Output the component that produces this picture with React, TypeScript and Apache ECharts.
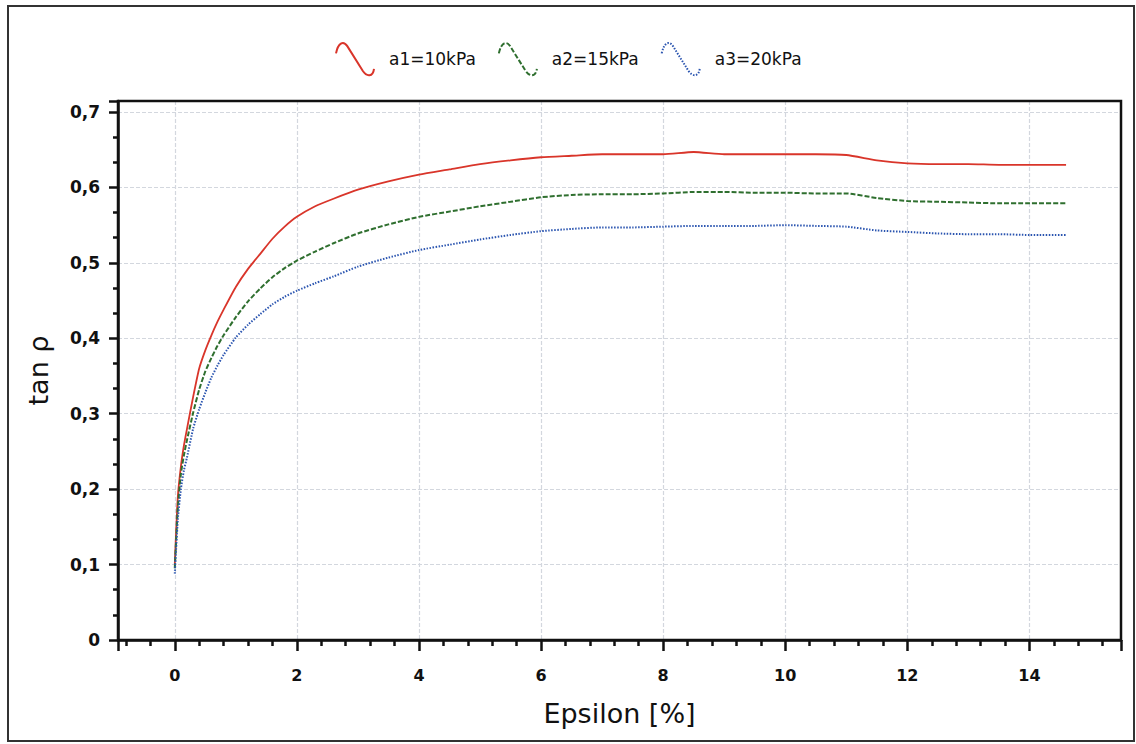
import React, { useEffect, useRef } from "react";
import * as echarts from "echarts";

const epsilon = [0, 0.05, 0.1, 0.15, 0.2, 0.3, 0.4, 0.5, 0.6, 0.7, 0.8, 1.0, 1.2, 1.4, 1.6, 1.8, 2.0, 2.3, 2.6, 3.0, 3.5, 4.0, 4.5, 5.0, 5.5, 6.0, 6.5, 7.0, 7.5, 8.0, 8.5, 9.0, 9.5, 10.0, 10.5, 11.0, 11.5, 12.0, 12.5, 13.0, 13.5, 14.0, 14.6];

const a1 = [0.10, 0.19, 0.23, 0.258, 0.28, 0.322, 0.36, 0.384, 0.404, 0.422, 0.438, 0.468, 0.492, 0.512, 0.532, 0.548, 0.561, 0.575, 0.585, 0.597, 0.608, 0.617, 0.624, 0.631, 0.636, 0.640, 0.642, 0.644, 0.644, 0.644, 0.647, 0.644, 0.644, 0.644, 0.644, 0.643, 0.636, 0.632, 0.631, 0.631, 0.630, 0.630, 0.630];

const a2 = [0.095, 0.175, 0.22, 0.245, 0.265, 0.301, 0.332, 0.356, 0.374, 0.39, 0.404, 0.428, 0.449, 0.466, 0.481, 0.493, 0.503, 0.515, 0.526, 0.539, 0.551, 0.561, 0.568, 0.575, 0.581, 0.587, 0.590, 0.591, 0.591, 0.592, 0.594, 0.594, 0.593, 0.593, 0.592, 0.592, 0.586, 0.582, 0.581, 0.580, 0.579, 0.579, 0.579];

const a3 = [0.088, 0.16, 0.2, 0.225, 0.242, 0.28, 0.306, 0.328, 0.348, 0.364, 0.378, 0.401, 0.418, 0.432, 0.445, 0.455, 0.463, 0.473, 0.482, 0.495, 0.507, 0.517, 0.524, 0.531, 0.537, 0.542, 0.545, 0.547, 0.547, 0.548, 0.549, 0.549, 0.549, 0.550, 0.549, 0.548, 0.543, 0.541, 0.539, 0.538, 0.538, 0.537, 0.537];

const seriesNames = ["a1=10kPa", "a2=15kPa", "a3=20kPa"];
const seriesColors = ["#d9352a", "#2f6f2f", "#2b55b0"];

const FONT = "DejaVu Sans";
const ICON = "path://M0,12 C2,2 7,-1 11,5 L26,29 C30,35 36,35 37,27";

export default function App() {
  const ref = useRef<HTMLDivElement>(null);

  useEffect(() => {
    if (!ref.current) return;
    const chart = echarts.init(ref.current, undefined, { renderer: "svg" });
    const pairs = (ys: number[]) => epsilon.map((x, i) => [x, ys[i]]);
    const lineTypes: any[] = ["solid", [5, 2], [1.5, 1.5]];
    const all = [a1, a2, a3];

    chart.setOption({
      animation: false,
      backgroundColor: "#ffffff",
      graphic: [
        {
          type: "rect",
          shape: { x: 8, y: 6, width: 1126, height: 735 },
          style: { fill: "none", stroke: "#333", lineWidth: 2 },
          silent: true,
        },
        {
          type: "rect",
          z: 100,
          shape: { x: 118, y: 101, width: 1003, height: 539 },
          style: { fill: "none", stroke: "#111", lineWidth: 2.5 },
          silent: true,
        },
      ],
      legend: {
        top: 37,
        left: 330,
        itemWidth: 38,
        itemHeight: 34,
        itemGap: 22,
        textStyle: { fontFamily: FONT, fontSize: 17, color: "#111", padding: [0, 0, 0, 10] },
        data: seriesNames.map((n, i) => ({
          name: n,
          icon: ICON,
          itemStyle: {
            color: "transparent",
            borderColor: seriesColors[i],
            borderWidth: 2,
            borderType: lineTypes[i],
          },
        })),
      },
      grid: {
        left: 118,
        top: 101,
        right: 15,
        bottom: 104,
        show: false,
        containLabel: false,
      },
      xAxis: {
        type: "value",
        min: -0.93,
        max: 15.5,
        splitNumber: 8,
        name: "Epsilon [%]",
        nameLocation: "middle",
        nameGap: 60,
        nameTextStyle: { fontFamily: FONT, fontSize: 27, color: "#111" },
        axisLine: { show: true, onZero: false, lineStyle: { color: "#111", width: 2.5 } },
        axisTick: { show: true, inside: false, length: 11, lineStyle: { color: "#111", width: 2.5 } },
        minorTick: { show: true, splitNumber: 5, length: 6, lineStyle: { color: "#111", width: 2.5 } },
        axisLabel: {
          showMinLabel: false,
          showMaxLabel: false,
          margin: 27,
          fontFamily: FONT,
          fontSize: 16,
          fontWeight: "bold",
          color: "#111",
        },
        splitLine: {
          show: true,
          showMinLine: false,
          showMaxLine: false,
          lineStyle: { color: "#d3d7de", width: 1.2, type: [4, 2] },
        },
      },
      yAxis: {
        type: "value",
        min: 0,
        max: 0.7146,
        interval: 0.1,
        name: "tan ρ",
        nameLocation: "middle",
        nameGap: 66,
        nameTextStyle: { fontFamily: FONT, fontSize: 27, color: "#111" },
        axisLine: { show: true, onZero: false, lineStyle: { color: "#111", width: 2.5 } },
        axisTick: { show: true, inside: false, length: 9, lineStyle: { color: "#111", width: 2.5 } },
        minorTick: { show: true, splitNumber: 3, length: 5, lineStyle: { color: "#111", width: 2.5 } },
        axisLabel: {
          showMaxLabel: false,
          margin: 18,
          fontFamily: FONT,
          fontSize: 17,
          fontWeight: "bold",
          color: "#111",
          formatter: (v: number) => (v === 0 ? "0" : v.toFixed(1).replace(".", ",")),
        },
        splitLine: {
          show: true,
          showMinLine: false,
          showMaxLine: false,
          lineStyle: { color: "#d3d7de", width: 1.2, type: [4, 2] },
        },
      },
      series: seriesNames.map((n, i) => ({
        name: n,
        type: "line",
        data: pairs(all[i]),
        showSymbol: false,
        symbol: "none",
        smooth: 0.2,
        lineStyle: { color: seriesColors[i], width: i === 0 ? 1.8 : 2, type: lineTypes[i] },
        itemStyle: { color: seriesColors[i] },
      })),
    });
    return () => chart.dispose();
  }, []);

  return (
    <div
      ref={ref}
      style={{ position: "absolute", left: 0, top: 0, width: 1136, height: 744 }}
    />
  );
}
